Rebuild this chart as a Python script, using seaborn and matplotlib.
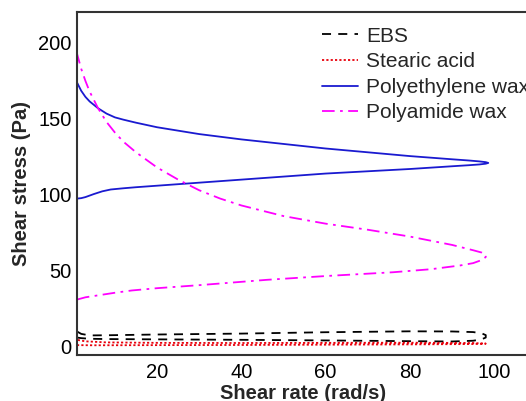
import numpy as np
import pandas as pd
import matplotlib
matplotlib.use("Agg")
import matplotlib.pyplot as plt
from matplotlib.ticker import MultipleLocator
import seaborn as sns

# Hysteresis loops: forward (increasing rate) and backward (decreasing rate) sweeps
ebs_up_x = [1, 2, 4, 8, 20, 40, 60, 80, 90, 95, 97, 98]
ebs_up_y = [6.0, 5.6, 5.2, 5.0, 4.8, 4.5, 4.1, 3.6, 3.4, 3.9, 4.8, 6.0]
ebs_down_x = [98, 97, 95, 90, 80, 60, 40, 20, 8, 4, 2, 1]
ebs_down_y = [7.6, 8.8, 9.6, 10.0, 10.1, 9.5, 8.6, 8.0, 7.5, 7.4, 8.4, 10.0]

sa_up_x = [1, 5, 20, 40, 60, 80, 95, 98]
sa_up_y = [1.0, 0.9, 1.0, 1.1, 1.3, 1.5, 1.7, 2.0]
sa_down_x = [98, 95, 80, 60, 40, 20, 8, 3, 1]
sa_down_y = [2.0, 2.4, 2.6, 2.5, 2.4, 2.5, 2.8, 3.5, 4.5]

pe_up_x = [1, 2, 3, 5, 7, 9, 12, 15, 20, 30, 40, 50, 60, 70, 80, 90, 94,
           96.5, 98, 98.6]
pe_up_y = [97.5, 97.8, 98.5, 100.5, 102.3, 103.5, 104.3, 105.0, 106.0,
           108.0, 110.0, 112.0, 114.0, 115.5, 117.0, 118.8, 119.5, 120.0,
           120.5, 121.0]
pe_down_x = [98.6, 98, 96.5, 94, 90, 80, 70, 60, 50, 40, 30, 20, 15, 12,
             10, 8, 6, 4, 3, 2, 1]
pe_down_y = [121.0, 121.5, 122.0, 122.6, 123.4, 125.5, 128.0, 130.5, 133.5,
             136.5, 140.0, 144.5, 147.5, 149.5, 151.0, 153.5, 157.0, 161.5,
             164.5, 168.5, 174.0]

pa_up_x = [1, 3, 6.5, 10, 14, 20, 30, 46, 60, 76, 85, 92, 95, 97, 98]
pa_up_y = [31.0, 32.5, 34.0, 35.5, 37.0, 38.5, 40.5, 44.0, 46.5, 49.0,
           51.0, 53.5, 55.0, 57.0, 59.0]
pa_down_x = [98, 97, 95, 90, 80, 70, 60, 50, 40, 35, 30, 25, 20, 15, 12,
             10, 8, 6, 4, 3, 2, 1]
pa_down_y = [60.5, 62.0, 63.5, 67.0, 72.5, 77.0, 81.0, 86.0, 93.0, 97.5,
             103.0, 110.0, 118.0, 128.0, 135.0, 141.0, 148.0, 157.0, 168.0,
             175.0, 183.0, 193.0]

names = ["EBS", "Stearic acid", "Polyethylene wax", "Polyamide wax"]
colors = ["black", "#e8000b", "#1a1ad0", "#ff00ff"]
dashes = [(0, (5, 4)), (0, (1.2, 1.2)), "-", (0, (7, 3, 1.5, 3))]

loops = [
    (ebs_up_x + ebs_down_x, ebs_up_y + ebs_down_y),
    (sa_up_x + sa_down_x, sa_up_y + sa_down_y),
    (pe_up_x + pe_down_x, pe_up_y + pe_down_y),
    (pa_up_x + pa_down_x, pa_up_y + pa_down_y),
]

sns.set_style("white")
plt.rcParams["font.family"] = ["Liberation Sans", "DejaVu Sans"]

fig = plt.figure(figsize=(5.26, 4.01), dpi=100)
ax = fig.add_axes([77 / 526, (401 - 355) / 401, (530 - 77) / 526, (355 - 12) / 401])

for name, (xs, ys), c, ls in zip(names, loops, colors, dashes):
    df = pd.DataFrame({"rate": xs, "stress": ys})
    sns.lineplot(data=df, x="rate", y="stress", sort=False, estimator=None,
                 color=c, linestyle=ls, linewidth=1.3, label=name, ax=ax)

ax.set_xlim(1.0, 108.5)
ax.set_ylim(-5.5, 220.4)
ax.xaxis.set_major_locator(MultipleLocator(20))
ax.xaxis.set_minor_locator(MultipleLocator(10))
ax.yaxis.set_major_locator(MultipleLocator(50))
ax.yaxis.set_minor_locator(MultipleLocator(25))
ax.tick_params(which="both", direction="in", labelsize=14.5, colors="#333333",
               labelcolor="black", width=1.2)
ax.tick_params(which="major", length=4)
ax.tick_params(which="minor", length=2.5)
ax.tick_params(axis="x", pad=6)
ax.tick_params(axis="y", pad=4)
for side in ["left", "bottom", "top"]:
    ax.spines[side].set_color("#333333")
    ax.spines[side].set_linewidth(1.5)
ax.spines["right"].set_visible(False)

ax.set_xlabel("Shear rate (rad/s)", fontsize=14.5, fontweight="bold", labelpad=1)
ax.set_ylabel("Shear stress (Pa)", fontsize=14.5, fontweight="bold", labelpad=5)

ax.legend(loc="upper left", bbox_to_anchor=(322 / 526, (401 - 26.5) / 401),
          bbox_transform=fig.transFigure, frameon=False, fontsize=15,
          handlelength=1.75, handletextpad=0.35, labelspacing=0.32,
          borderaxespad=0, borderpad=0)

fig.savefig("out.png", dpi=100)
